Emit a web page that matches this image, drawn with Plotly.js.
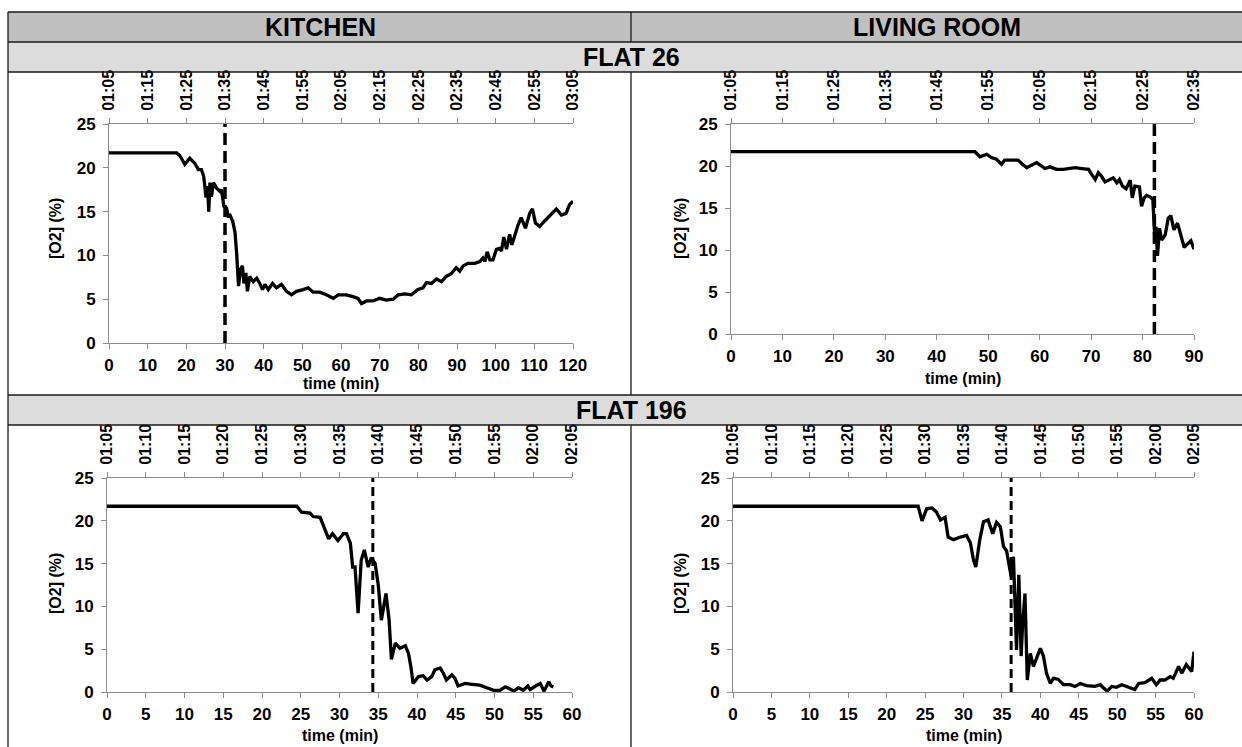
<!DOCTYPE html>
<html>
<head>
<meta charset="utf-8">
<script src="https://cdn.plot.ly/plotly-3.0.1.min.js"></script>
<style>
  html, body { margin: 0; padding: 0; background: #ffffff; }
  #chart { width: 1242px; height: 747px; }
</style>
</head>
<body>
<div id="chart"></div>
<script>
// ---- Flat 26, kitchen: O2 concentration (%) vs time (min) ----
const k26Time = [0, 17.5, 18.3, 19.6, 20.9, 22.2, 23.1, 23.9, 24.5, 25.1, 25.5, 25.8, 26.1, 26.5, 27.0, 27.8, 28.7, 29.1, 29.7, 30.4, 30.8, 31.3, 32.0, 32.6, 33.0, 33.5, 34.0, 34.5, 34.9, 35.4, 35.8, 36.4, 37.3, 38.2, 39.0, 39.7, 40.3, 41.2, 42.3, 43.3, 44.6, 45.9, 47.2, 48.5, 50.2, 51.5, 52.8, 54.5, 56.2, 58.0, 59.3, 61.4, 63.1, 64.4, 65.3, 66.6, 68.3, 70.0, 71.7, 73.5, 74.8, 76.5, 78.2, 79.9, 81.2, 82.1, 83.4, 84.7, 86.0, 87.2, 88.5, 89.8, 90.7, 91.6, 92.8, 94.6, 95.9, 96.7, 97.2, 97.8, 98.5, 99.3, 100.2, 101.0, 101.5, 102.1, 102.8, 103.6, 104.2, 104.9, 105.8, 106.6, 107.7, 108.8, 109.5, 110.3, 111.4, 112.6, 113.9, 115.7, 117.0, 118.2, 119.1, 120.0];
const k26O2 = [21.7, 21.7, 21.4, 20.4, 21.1, 20.5, 19.8, 19.8, 19.0, 16.6, 17.9, 15.0, 18.3, 16.7, 18.3, 17.7, 17.3, 17.5, 15.6, 15.4, 14.5, 14.6, 13.9, 12.6, 10.3, 6.5, 8.4, 8.8, 6.8, 8.0, 5.9, 7.6, 7.0, 7.4, 6.8, 6.1, 6.7, 6.1, 6.8, 6.3, 6.7, 5.9, 5.5, 5.9, 6.1, 6.3, 5.8, 5.8, 5.5, 5.1, 5.5, 5.5, 5.3, 5.1, 4.5, 4.8, 4.8, 5.1, 4.9, 5.0, 5.5, 5.6, 5.5, 6.1, 6.3, 6.9, 6.8, 7.3, 7.0, 7.6, 7.9, 8.6, 8.2, 8.8, 9.1, 9.1, 9.3, 9.7, 9.3, 10.4, 9.5, 9.5, 10.7, 10.8, 10.5, 12.1, 10.7, 12.4, 11.2, 12.2, 13.5, 14.3, 13.1, 14.8, 15.3, 13.7, 13.3, 13.9, 14.5, 15.3, 14.6, 14.8, 15.8, 16.2];
const k26Event = 30;
const k26Clock = ["01:05", "01:15", "01:25", "01:35", "01:45", "01:55", "02:05", "02:15", "02:25", "02:35", "02:45", "02:55", "03:05"];

// ---- Flat 26, living room ----
const l26Time = [0, 47.4, 48.4, 49.7, 50.6, 51.6, 52.6, 53.2, 54.5, 55.8, 56.5, 57.5, 58.4, 59.4, 60.4, 61.0, 62.0, 63.3, 64.6, 65.9, 66.9, 68.2, 69.5, 70.1, 70.8, 71.4, 72.0, 72.7, 73.3, 74.3, 75.0, 75.5, 76.1, 76.8, 77.6, 78.0, 78.5, 79.4, 79.8, 80.3, 80.8, 81.5, 82.0, 82.2, 82.4, 82.6, 82.9, 83.3, 83.7, 84.4, 85.0, 85.5, 86.1, 86.8, 87.4, 88.1, 88.7, 89.4, 90.0];
const l26O2 = [21.7, 21.7, 21.1, 21.4, 21.0, 20.8, 20.2, 20.7, 20.7, 20.7, 20.3, 19.8, 20.1, 20.4, 20.0, 19.7, 19.9, 19.6, 19.6, 19.7, 19.8, 19.7, 19.6, 19.0, 18.4, 19.2, 18.8, 18.1, 18.3, 18.6, 18.0, 18.4, 17.6, 17.3, 18.3, 16.2, 17.6, 17.5, 15.2, 16.2, 16.5, 16.3, 16.0, 14.0, 11.2, 12.8, 9.3, 12.6, 11.2, 11.8, 13.8, 14.1, 12.4, 13.2, 12.0, 10.3, 10.7, 11.1, 10.1];
const l26Event = 82.3;
const l26Clock = ["01:05", "01:15", "01:25", "01:35", "01:45", "01:55", "02:05", "02:15", "02:25", "02:35"];

// ---- Flat 196, kitchen ----
const k196Time = [0, 24.5, 25.1, 26.2, 26.6, 27.5, 27.9, 28.6, 29.1, 29.8, 30.5, 30.9, 31.4, 31.7, 32.0, 32.4, 32.8, 33.2, 33.7, 34.1, 34.6, 35.0, 35.4, 36.0, 36.4, 36.7, 37.2, 37.8, 38.5, 38.9, 39.2, 39.5, 40.2, 40.8, 41.3, 41.9, 42.3, 43.0, 43.4, 43.8, 44.5, 44.9, 45.3, 46.2, 47.1, 48.1, 49.0, 49.9, 50.7, 51.4, 52.0, 52.5, 53.1, 53.7, 54.3, 54.6, 55.3, 55.9, 56.4, 57.0, 57.3, 57.6];
const k196O2 = [21.7, 21.7, 21.0, 20.9, 20.5, 20.4, 19.5, 17.9, 18.5, 17.7, 18.5, 18.5, 17.4, 14.6, 14.6, 9.2, 15.4, 16.6, 14.6, 15.7, 15.0, 12.5, 8.4, 11.5, 8.4, 3.8, 5.7, 5.1, 5.4, 4.5, 3.0, 1.0, 1.8, 1.9, 1.4, 1.8, 2.6, 2.8, 2.2, 1.4, 2.0, 1.6, 0.7, 1.0, 0.9, 0.8, 0.5, 0.2, 0.2, 0.6, 0.35, 0.1, 0.5, 0.2, 0.7, 0.3, 0.7, 1.0, 0.1, 1.2, 0.7, 0.6];
const k196Event = 34.3;
const k196Clock = ["01:05", "01:10", "01:15", "01:20", "01:25", "01:30", "01:35", "01:40", "01:45", "01:50", "01:55", "02:00", "02:05"];

// ---- Flat 196, living room ----
const l196Time = [0, 24.1, 24.6, 25.2, 25.9, 26.5, 27.0, 27.6, 28.0, 28.7, 29.6, 30.4, 30.9, 31.3, 31.6, 32.1, 32.6, 33.2, 33.8, 34.3, 34.8, 35.2, 35.6, 36.0, 36.2, 36.5, 36.7, 36.9, 37.2, 37.5, 37.7, 38.0, 38.3, 38.7, 39.1, 39.5, 40.0, 40.4, 40.8, 41.3, 41.7, 42.3, 43.0, 43.9, 44.5, 45.2, 46.0, 47.1, 47.8, 48.2, 48.7, 49.3, 49.9, 50.6, 51.2, 51.9, 52.3, 52.8, 53.6, 54.5, 55.1, 55.6, 56.2, 56.9, 57.3, 58.0, 58.4, 59.0, 59.4, 59.7, 60.0];
const l196O2 = [21.7, 21.7, 20.0, 21.4, 21.5, 21.0, 20.1, 20.4, 18.1, 17.8, 18.1, 18.3, 17.4, 15.4, 14.6, 17.7, 19.9, 20.1, 18.5, 19.8, 19.3, 17.0, 16.5, 14.6, 13.5, 15.8, 11.1, 4.9, 13.7, 4.2, 8.0, 11.5, 1.4, 4.5, 3.0, 4.0, 5.1, 4.2, 2.2, 1.0, 1.6, 1.5, 0.85, 0.85, 0.65, 1.0, 0.75, 0.65, 0.85, 0.5, 0.1, 0.65, 0.55, 0.85, 0.65, 0.5, 0.3, 1.0, 1.1, 1.6, 0.85, 1.4, 1.4, 1.8, 1.6, 3.0, 2.2, 3.2, 2.7, 2.4, 4.7];
const l196Event = 36.2;
const l196Clock = k196Clock;

const yTicks = [0, 5, 10, 15, 20, 25];

const W = 1242, H = 747;
const FONT = "Liberation Sans, Arial, Helvetica, sans-serif";
const AXIS_GREY = "#8c8c8c";

// panel boxes in pixels: [left, right, top, bottom]
const boxes = [
  [109, 573, 124, 343],
  [731, 1194, 124, 334],
  [107, 572, 478, 692],
  [733, 1194, 478, 692]
];
const panels = [
  { t: k26Time, v: k26O2, ev: k26Event, clock: k26Clock, xmax: 120, step: 10 },
  { t: l26Time, v: l26O2, ev: l26Event, clock: l26Clock, xmax: 90, step: 10 },
  { t: k196Time, v: k196O2, ev: k196Event, clock: k196Clock, xmax: 60, step: 5 },
  { t: l196Time, v: l196O2, ev: l196Event, clock: l196Clock, xmax: 60, step: 5 }
];

const traces = [];
const layout = {
  width: W, height: H,
  margin: { l: 0, r: 0, t: 0, b: 0 },
  paper_bgcolor: "#ffffff",
  plot_bgcolor: "rgba(0,0,0,0)",
  showlegend: false,
  font: { family: FONT, color: "#000000", size: 17, weight: 700 },
  shapes: [],
  annotations: []
};

panels.forEach((p, i) => {
  const n = i + 1;
  const top = n + 4;
  const b = boxes[i];
  const xs = n === 1 ? "x" : "x" + n;
  const ys = n === 1 ? "y" : "y" + n;
  const xt = "x" + top;
  const ticks = [];
  for (let k = 0; k <= p.xmax; k += p.step) ticks.push(k);

  // measured O2 trace
  traces.push({
    x: p.t, y: p.v, xaxis: xs, yaxis: ys,
    type: "scatter", mode: "lines",
    line: { color: "#000000", width: 3.3, shape: "linear" },
    hoverinfo: "skip"
  });
  // dashed marker at the event time
  traces.push({
    x: [p.ev, p.ev], y: [0, 25], xaxis: xt, yaxis: ys,
    type: "scatter", mode: "lines",
    line: { color: "#000000", width: i < 2 ? 3.5 : 3, dash: i < 2 ? "12px,6px" : "9px,5px" },
    hoverinfo: "skip"
  });

  layout["xaxis" + (n === 1 ? "" : n)] = {
    domain: [b[0] / W, b[1] / W], anchor: ys,
    range: [0, p.xmax], tickmode: "array", tickvals: ticks,
    showline: true, linecolor: AXIS_GREY, linewidth: 1,
    ticks: "outside", ticklen: 5, tickcolor: AXIS_GREY, tickwidth: 1,
    showgrid: false, zeroline: false, ticklabelstandoff: 2,
    tickfont: { family: FONT, size: 17, color: "#000000", weight: 700 }
  };
  layout["yaxis" + (n === 1 ? "" : n)] = {
    domain: [1 - b[3] / H, 1 - b[2] / H], anchor: xs,
    range: [0, 25], tickmode: "array", tickvals: yTicks,
    showline: true, linecolor: AXIS_GREY, linewidth: 1,
    ticks: "outside", ticklen: 5, tickcolor: AXIS_GREY, tickwidth: 1,
    showgrid: false, zeroline: false, ticklabelstandoff: 4,
    tickfont: { family: FONT, size: 17, color: "#000000", weight: 700 }
  };
  layout["xaxis" + top] = {
    overlaying: xs, side: "top", anchor: ys,
    range: [0, p.xmax], tickmode: "array", tickvals: ticks, ticktext: p.clock,
    tickangle: -90,
    showline: true, linecolor: AXIS_GREY, linewidth: 1,
    ticks: "outside", ticklen: 5, tickcolor: AXIS_GREY, tickwidth: 1,
    showgrid: false, zeroline: false, ticklabelstandoff: 4,
    tickfont: { family: FONT, size: 16, color: "#000000", weight: 700 }
  };

  // axis titles
  layout.annotations.push({
    xref: "paper", yref: "paper",
    x: (b[0] + b[1]) / 2 / W, y: 1 - (i === 1 ? 378 : (i === 0 ? 384 : 735)) / H,
    text: "time (min)", showarrow: false, xanchor: "center", yanchor: "middle",
    font: { family: FONT, size: 16, weight: 700 }
  });
  layout.annotations.push({
    xref: "paper", yref: "paper",
    x: (i % 2 === 0 ? 55 : 680) / W, y: 1 - (i < 2 ? 229 : 584) / H,
    text: "[O2] (%)", showarrow: false, textangle: -90,
    xanchor: "center", yanchor: "middle",
    font: { family: FONT, size: 16, weight: 700 }
  });
});

// table frame: header bands and ruling lines
const px = v => v / W, py = v => 1 - v / H;
const rect = (x0, y0, x1, y1, fill) => ({
  type: "rect", xref: "paper", yref: "paper", layer: "below",
  x0: px(x0), x1: px(x1), y0: py(y0), y1: py(y1),
  fillcolor: fill, line: { width: 0 }
});
const line = (x0, y0, x1, y1, c) => ({
  type: "line", xref: "paper", yref: "paper", layer: "above",
  x0: px(x0), x1: px(x1), y0: py(y0), y1: py(y1),
  line: { color: c || "#1a1a1a", width: 1.3 }
});
layout.shapes.push(
  rect(8, 12, 1242, 42, "#c0c0c0"),
  rect(8, 42, 1242, 72, "#dcdcdc"),
  rect(8, 395, 1242, 425, "#dcdcdc"),
  line(8, 12, 1242, 12), line(8, 42, 1242, 42), line(8, 72, 1242, 72),
  line(8, 395, 1242, 395), line(8, 425, 1242, 425),
  line(8, 12, 8, 747),
  line(631, 12, 631, 42), line(631, 72, 631, 395), line(631, 425, 631, 747)
);

const header = (x, y, text) => ({
  xref: "paper", yref: "paper", x: px(x), y: py(y), text: text, showarrow: false,
  xanchor: "center", yanchor: "middle",
  font: { family: FONT, size: 25, weight: 700, color: "#000000" }
});
layout.annotations.push(
  header(320, 27, "KITCHEN"),
  header(937, 27, "LIVING ROOM"),
  header(631, 57, "FLAT 26"),
  header(631, 410, "FLAT 196")
);

Plotly.newPlot("chart", traces, layout, { staticPlot: true, displayModeBar: false });
</script>
</body>
</html>
